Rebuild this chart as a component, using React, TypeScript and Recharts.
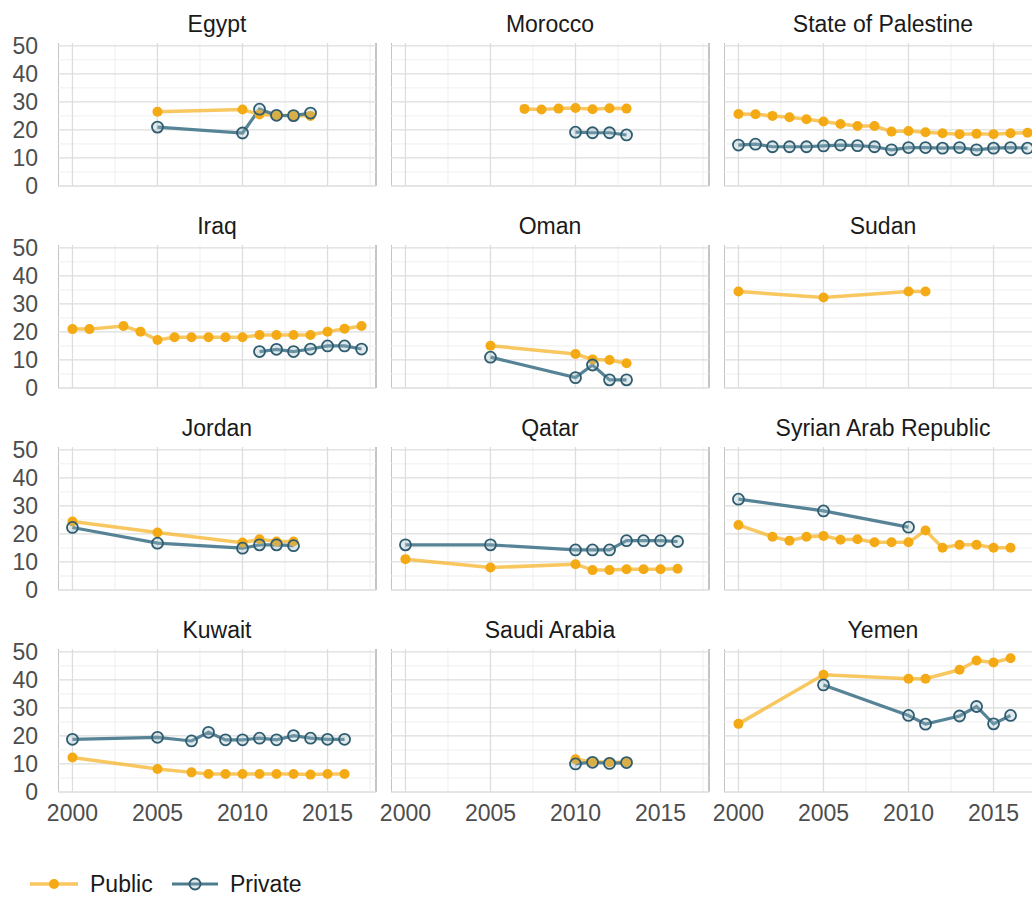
import { LineChart, Line, XAxis, YAxis, CartesianGrid } from "recharts";

// axis ticks and grid
const YEAR_TICKS = [2000, 2005, 2010, 2015];
const YEAR_MINOR = [2002.5, 2007.5, 2012.5, 2017.5];
const VALUE_TICKS = [0, 10, 20, 30, 40, 50];
const VALUE_MINOR = [5, 15, 25, 35, 45];

// Egypt
const EGYPT_YEARS = [2005, 2010, 2011, 2012, 2013, 2014];
const EGYPT_PUBLIC = [26.5, 27.3, 25.5, 25.2, 25.1, 25.0];
const EGYPT_PRIVATE = [21.0, 18.9, 27.4, 25.2, 25.1, 26.0];

// Morocco
const MOROCCO_PUBLIC_YEARS = [2007, 2008, 2009, 2010, 2011, 2012, 2013];
const MOROCCO_PUBLIC = [27.5, 27.3, 27.6, 27.8, 27.4, 27.7, 27.6];
const MOROCCO_PRIVATE_YEARS = [2010, 2011, 2012, 2013];
const MOROCCO_PRIVATE = [19.2, 19.0, 19.0, 18.2];

// State of Palestine
const PALESTINE_YEARS = [2000, 2001, 2002, 2003, 2004, 2005, 2006, 2007, 2008, 2009, 2010, 2011, 2012, 2013, 2014, 2015, 2016, 2017];
const PALESTINE_PUBLIC = [25.7, 25.6, 25.0, 24.5, 23.8, 23.0, 22.1, 21.4, 21.4, 19.4, 19.6, 19.2, 18.8, 18.5, 18.6, 18.5, 18.8, 19.0];
const PALESTINE_PRIVATE = [14.6, 14.9, 14.0, 14.0, 14.0, 14.3, 14.6, 14.4, 14.0, 12.9, 13.7, 13.7, 13.5, 13.7, 12.9, 13.5, 13.7, 13.5];

// Iraq
const IRAQ_PUBLIC_YEARS = [2000, 2001, 2003, 2004, 2005, 2006, 2007, 2008, 2009, 2010, 2011, 2012, 2013, 2014, 2015, 2016, 2017];
const IRAQ_PUBLIC = [21.0, 21.0, 22.1, 20.1, 17.1, 18.1, 18.1, 18.1, 18.1, 18.1, 18.9, 18.9, 18.9, 18.9, 20.1, 21.1, 22.1];
const IRAQ_PRIVATE_YEARS = [2011, 2012, 2013, 2014, 2015, 2016, 2017];
const IRAQ_PRIVATE = [13.0, 13.8, 13.0, 13.9, 15.0, 15.0, 13.9];

// Oman
const OMAN_YEARS = [2005, 2010, 2011, 2012, 2013];
const OMAN_PUBLIC = [15.1, 12.1, 10.2, 10.0, 8.8];
const OMAN_PRIVATE = [11.0, 3.7, 8.2, 2.9, 2.9];

// Sudan
const SUDAN_YEARS = [2000, 2005, 2010, 2011];
const SUDAN_PUBLIC = [34.4, 32.3, 34.4, 34.4];

// Jordan
const JORDAN_YEARS = [2000, 2005, 2010, 2011, 2012, 2013];
const JORDAN_PUBLIC = [24.4, 20.5, 16.9, 18.1, 17.3, 17.3];
const JORDAN_PRIVATE = [22.3, 16.7, 14.9, 16.1, 16.1, 15.8];

// Qatar
const QATAR_YEARS = [2000, 2005, 2010, 2011, 2012, 2013, 2014, 2015, 2016];
const QATAR_PUBLIC = [11.0, 8.0, 9.2, 7.1, 7.1, 7.4, 7.4, 7.4, 7.6];
const QATAR_PRIVATE = [16.1, 16.1, 14.3, 14.3, 14.3, 17.6, 17.6, 17.6, 17.3];

// Syrian Arab Republic
const SYRIA_PUBLIC_YEARS = [2000, 2002, 2003, 2004, 2005, 2006, 2007, 2008, 2009, 2010, 2011, 2012, 2013, 2014, 2015, 2016];
const SYRIA_PUBLIC = [23.2, 19.0, 17.6, 19.0, 19.3, 17.9, 18.1, 17.0, 17.0, 17.0, 21.2, 15.1, 16.1, 16.1, 15.1, 15.1];
const SYRIA_PRIVATE_YEARS = [2000, 2005, 2010];
const SYRIA_PRIVATE = [32.4, 28.2, 22.4];

// Kuwait
const KUWAIT_YEARS = [2000, 2005, 2007, 2008, 2009, 2010, 2011, 2012, 2013, 2014, 2015, 2016];
const KUWAIT_PUBLIC = [12.3, 8.2, 7.0, 6.4, 6.4, 6.4, 6.4, 6.4, 6.4, 6.2, 6.4, 6.4];
const KUWAIT_PRIVATE = [18.8, 19.5, 18.2, 21.3, 18.6, 18.6, 19.2, 18.6, 20.1, 19.2, 18.8, 18.8];

// Saudi Arabia
const SAUDI_YEARS = [2010, 2011, 2012, 2013];
const SAUDI_PUBLIC = [11.7, 10.8, 10.6, 10.6];
const SAUDI_PRIVATE = [10.0, 10.6, 10.2, 10.5];

// Yemen
const YEMEN_PUBLIC_YEARS = [2000, 2005, 2010, 2011, 2013, 2014, 2015, 2016];
const YEMEN_PUBLIC = [24.3, 41.8, 40.4, 40.4, 43.6, 46.9, 46.2, 47.7];
const YEMEN_PRIVATE_YEARS = [2005, 2010, 2011, 2013, 2014, 2015, 2016];
const YEMEN_PRIVATE = [38.2, 27.3, 24.2, 27.1, 30.5, 24.3, 27.3];

type Point = { year: number; value: number };

const zip = (years: number[], values: number[]): Point[] =>
  years.map((year, i) => ({ year, value: values[i] }));

interface Panel {
  name: string;
  pub: Point[];
  priv: Point[] | null;
}

const PANELS: Panel[] = [
  { name: "Egypt", pub: zip(EGYPT_YEARS, EGYPT_PUBLIC), priv: zip(EGYPT_YEARS, EGYPT_PRIVATE) },
  { name: "Morocco", pub: zip(MOROCCO_PUBLIC_YEARS, MOROCCO_PUBLIC), priv: zip(MOROCCO_PRIVATE_YEARS, MOROCCO_PRIVATE) },
  { name: "State of Palestine", pub: zip(PALESTINE_YEARS, PALESTINE_PUBLIC), priv: zip(PALESTINE_YEARS, PALESTINE_PRIVATE) },
  { name: "Iraq", pub: zip(IRAQ_PUBLIC_YEARS, IRAQ_PUBLIC), priv: zip(IRAQ_PRIVATE_YEARS, IRAQ_PRIVATE) },
  { name: "Oman", pub: zip(OMAN_YEARS, OMAN_PUBLIC), priv: zip(OMAN_YEARS, OMAN_PRIVATE) },
  { name: "Sudan", pub: zip(SUDAN_YEARS, SUDAN_PUBLIC), priv: null },
  { name: "Jordan", pub: zip(JORDAN_YEARS, JORDAN_PUBLIC), priv: zip(JORDAN_YEARS, JORDAN_PRIVATE) },
  { name: "Qatar", pub: zip(QATAR_YEARS, QATAR_PUBLIC), priv: zip(QATAR_YEARS, QATAR_PRIVATE) },
  { name: "Syrian Arab Republic", pub: zip(SYRIA_PUBLIC_YEARS, SYRIA_PUBLIC), priv: zip(SYRIA_PRIVATE_YEARS, SYRIA_PRIVATE) },
  { name: "Kuwait", pub: zip(KUWAIT_YEARS, KUWAIT_PUBLIC), priv: zip(KUWAIT_YEARS, KUWAIT_PRIVATE) },
  { name: "Saudi Arabia", pub: zip(SAUDI_YEARS, SAUDI_PUBLIC), priv: zip(SAUDI_YEARS, SAUDI_PRIVATE) },
  { name: "Yemen", pub: zip(YEMEN_PUBLIC_YEARS, YEMEN_PUBLIC), priv: zip(YEMEN_PRIVATE_YEARS, YEMEN_PRIVATE) },
];

const FONT = '"Liberation Sans", Arial, sans-serif';
const PUBLIC_LINE = "#F6B42A";
const PUBLIC_DOT = "#F4AA14";
const PRIVATE_LINE = "#4D7C8F";
const PRIVATE_RING = "#2F5D6F";
const TICK_COLOR = "#4d4d4d";

// layout (px)
const PLOT_LEFT = 58;
const PLOT_TOP = 43;
const COL_STEP = 333;
const ROW_STEP = 202;
const PLOT_W = 318;
const PLOT_H = 143;
const Y_AXIS_W = 58;
const X_AXIS_H = 40;
const PAD = 16; // spare room so edge tick labels are not clipped

const FacetPanel = ({ panel, row, col }: { panel: Panel; row: number; col: number }) => {
  const left = PLOT_LEFT + col * COL_STEP;
  const top = PLOT_TOP + row * ROW_STEP;
  const showY = col === 0;
  const showX = row === 3;
  const padX = 2 * PAD;
  const width = PLOT_W + (showY ? Y_AXIS_W : 0) + 2 * padX;
  const height = PLOT_H + (showX ? X_AXIS_H : 0) + 2 * PAD;

  return (
    <>
      <div
        style={{
          position: "absolute",
          left,
          top: top - 33,
          width: PLOT_W,
          textAlign: "center",
          fontSize: 23,
          lineHeight: "28px",
          color: "#1a1a1a",
          whiteSpace: "nowrap",
        }}
      >
        {panel.name}
      </div>
      <div style={{ position: "absolute", left: left - 0.5, top, width: 1.2, height: PLOT_H, background: "#c4c4c4" }} />
      <div style={{ position: "absolute", left: left + PLOT_W - 1, top, width: 2, height: PLOT_H, background: "#c4c4c4" }} />
      <div style={{ position: "absolute", left: left - (showY ? Y_AXIS_W : 0) - padX, top: top - PAD }}>
        <LineChart width={width} height={height} margin={{ top: PAD, right: padX, bottom: PAD, left: padX }}>
          <CartesianGrid horizontalValues={VALUE_MINOR} verticalValues={YEAR_MINOR} stroke="#ededed" strokeWidth={0.9} />
          <CartesianGrid horizontalValues={VALUE_TICKS} verticalValues={YEAR_TICKS} stroke="#dddddd" strokeWidth={1.3} />
          <XAxis
            type="number"
            dataKey="year"
            domain={[1999.15, 2017.85]}
            ticks={YEAR_TICKS}
            interval={0}
            allowDataOverflow
            hide={!showX}
            height={X_AXIS_H}
            axisLine={false}
            tickLine={false}
            tickSize={0}
            tickMargin={13}
            tick={{ fill: TICK_COLOR, fontSize: 23, fontFamily: FONT }}
          />
          <YAxis
            type="number"
            domain={[0, 51]}
            ticks={VALUE_TICKS}
            interval={0}
            allowDataOverflow
            hide={!showY}
            width={Y_AXIS_W}
            axisLine={false}
            tickLine={false}
            tickSize={0}
            tickMargin={20}
            tick={{ fill: TICK_COLOR, fontSize: 23, fontFamily: FONT }}
          />
          <Line
            data={panel.pub}
            dataKey="value"
            type="linear"
            stroke={PUBLIC_LINE}
            strokeOpacity={0.75}
            strokeWidth={3.5}
            dot={{ r: 5, fill: PUBLIC_DOT, stroke: PUBLIC_DOT, strokeWidth: 0, strokeOpacity: 1 }}
            activeDot={false}
            isAnimationActive={false}
          />
          {panel.priv && (
            <Line
              data={panel.priv}
              dataKey="value"
              type="linear"
              stroke={PRIVATE_LINE}
              strokeOpacity={0.95}
              strokeWidth={3.2}
              dot={{ r: 5.5, fill: "#9DB9C4", fillOpacity: 0.3, stroke: PRIVATE_RING, strokeWidth: 1.8, strokeOpacity: 1 }}
              activeDot={false}
              isAnimationActive={false}
            />
          )}
        </LineChart>
      </div>
    </>
  );
};

const LegendRow = () => (
  <svg style={{ position: "absolute", left: 0, top: 862 }} width={330} height={35}>
    <line x1={30} x2={78} y1={22} y2={22} stroke={PUBLIC_LINE} strokeOpacity={0.75} strokeWidth={3.5} />
    <circle cx={54} cy={22} r={5} fill={PUBLIC_DOT} />
    <text x={90} y={22} dominantBaseline="central" fontSize={23} fontFamily={FONT} fill="#1a1a1a">
      Public
    </text>
    <line x1={172} x2={218} y1={22} y2={22} stroke={PRIVATE_LINE} strokeWidth={3.2} />
    <circle cx={195} cy={22} r={5.5} fill="#9DB9C4" fillOpacity={0.3} stroke={PRIVATE_RING} strokeWidth={1.8} />
    <text x={230} y={22} dominantBaseline="central" fontSize={23} fontFamily={FONT} fill="#1a1a1a">
      Private
    </text>
  </svg>
);

export default function App() {
  return (
    <div
      style={{
        position: "fixed",
        left: 0,
        top: 0,
        width: 1032,
        height: 897,
        overflow: "hidden",
        background: "#ffffff",
        fontFamily: FONT,
      }}
    >
      {PANELS.map((panel, i) => (
        <FacetPanel key={panel.name} panel={panel} row={Math.floor(i / 3)} col={i % 3} />
      ))}
      <LegendRow />
    </div>
  );
}
